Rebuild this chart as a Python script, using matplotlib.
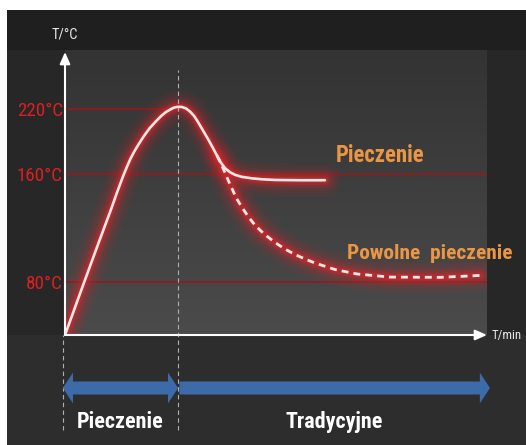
import numpy as np
import matplotlib
matplotlib.use('Agg')
import matplotlib.pyplot as plt
from matplotlib import transforms
from matplotlib import font_manager as fm
from matplotlib.patches import Polygon, Rectangle
from matplotlib.colors import LinearSegmentedColormap

# temperature levels marked on the y axis
levels = [80, 160, 220]
level_labels = ['80°C', '160°C', '220°C']

# fast roasting curve (time in arbitrary units, temperature in °C)
t_fast = [0, 4.6, 7.9, 10.7, 12.3, 13.8, 14.7, 15.5, 16.5, 17.4, 18.7, 20.1, 21.6,
          22.9, 23.9, 24.9, 25.8, 26.8, 27.7, 28.7, 29.6, 30.6, 31.6, 32.7, 34.0,
          35.0, 36.0, 36.9, 37.9, 39.1, 40.3, 41.9, 44.3, 46.7, 49.8, 55.7, 61.6]
T_fast = [0, 80, 108.3, 131.9, 146, 158.7, 166.9, 174, 181.4, 187.2, 195.1, 202.5, 208.9,
          214, 217.2, 219.5, 221.3, 222.1, 221.9, 220.5, 217.8, 213.6, 207.5, 200.2, 191.6,
          184.5, 177.1, 170.8, 165.5, 161.7, 159.4, 157.9, 156.8, 156.1, 155.6, 155.4, 155.4]

# slow roasting branch
t_slow = [36.0, 37.0, 37.9, 38.7, 39.5, 40.6, 41.9, 43.4, 45.0, 47.2, 49.8, 52.1, 54.5,
          56.9, 59.2, 64.0, 69.2, 77.0, 88.9, 98.3]
T_slow = [177.1, 169.2, 161.4, 155.2, 149.6, 142.1, 135.4, 128.4, 122, 115.3, 109, 104.2,
          100.1, 96.7, 93.8, 88.9, 85.6, 83.3, 83.1, 84.5]

# phases shown under the time axis
phase_edges = [-0.5, 26.8, 100.7]
phase_names = ['Pieczenie', 'Tradycyjne']

W, H = 526, 445
red = '#d8262a'


def pick_font(bold):
    # a narrow face is closest to the original lettering
    prefs = ['liberation sans narrow', 'roboto condensed', 'open sans condensed',
             'noto sans', 'dejavu sans', 'open sans', 'roboto']
    best, best_score = None, None
    for f in fm.fontManager.ttflist:
        if f.style != 'normal':
            continue
        try:
            w = int(f.weight)
        except (TypeError, ValueError):
            w = 700 if 'bold' in str(f.weight).lower() else 400
        if bold != (w >= 600) or w > 750 or w < 350:
            continue
        name = f.name.lower()
        st = str(f.stretch).lower()
        narrow = 'narrow' in name or 'condensed' in name or st in ('condensed', 'semi-condensed')
        if not narrow or 'extra' in name or 'extra' in st or 'ultra' in st:
            continue
        rank = next((i for i, p in enumerate(prefs) if name.startswith(p)), len(prefs))
        score = (rank, 0 if 'semi' not in st else 1)
        if best_score is None or score < best_score:
            best, best_score = f.fname, score
    if best:
        return fm.FontProperties(fname=best)
    return fm.FontProperties(family='Roboto', weight='bold' if bold else 'normal')


fp_reg = pick_font(False)
fp_bold = pick_font(True)


def frac(x0, y0, x1, y1):
    # pixel box -> figure fraction rect
    return [x0 / W, 1 - y1 / H, (x1 - x0) / W, (y1 - y0) / H]


fig = plt.figure(figsize=(W / 100, H / 100), dpi=100)
fig.patch.set_facecolor('white')

# background
bg = fig.add_axes([0, 0, 1, 1])
bg.add_patch(Rectangle((7, 10), W - 7, H - 10, color='#272727', lw=0, zorder=1))
bg.add_patch(Rectangle((7, 10), W - 7, 40, color='#1f1f1f', lw=0, zorder=1))
bg.add_patch(Rectangle((7, 335), W - 7, H - 335, color='#2d2d2d', lw=0, zorder=1))
grad = np.linspace(0, 1, 256)[:, None]
bg.imshow(grad, cmap=LinearSegmentedColormap.from_list('panel', ['#333333', '#4b4b4b']),
          extent=[65, 487, 335, 50], aspect='auto', interpolation='bilinear', zorder=2)
bg.set_xlim(0, W)
bg.set_ylim(H, 0)
bg.axis('off')

# main chart, schematic (non linear) temperature scale
T_knots = [-100, 0, 80, 160, 220, 300]
h_knots = [-67, 0, 53.5, 161, 226, 312.7]

ax = fig.add_axes(frac(65, 50, 487, 335))
ax.set_facecolor('none')
ax.set_yscale('function', functions=(lambda v: np.interp(v, T_knots, h_knots),
                                     lambda v: np.interp(v, h_knots, T_knots)))
ax.set_xlim(0, 100)
ax.set_ylim(0, 274.5)
for s in ax.spines.values():
    s.set_visible(False)
ax.set_xticks([])
ax.set_yticks(levels)
ax.yaxis.set_minor_locator(plt.NullLocator())
ax.tick_params(axis='y', length=0, pad=1.5)

peak_t = t_fast[int(np.argmax(T_fast))]
ends = [100, 100, peak_t]
ax.hlines(levels, 0, ends, colors='#8e1b20', lw=1.3, zorder=1)

# glow around the curves
for lw, a in [(24, 0.06), (19, 0.08), (14.5, 0.11), (10.5, 0.17), (7, 0.27), (4.5, 0.42)]:
    for tx, ty in [(t_fast, T_fast), (t_slow, T_slow)]:
        ax.plot(tx, ty, color=red, lw=lw, alpha=a, solid_capstyle='round',
                solid_joinstyle='round', zorder=2)

# dashed phase separators
bt = transforms.blended_transform_factory(ax.transData, fig.transFigure)
ax.plot([phase_edges[1]] * 2, [1 - 430 / H, 1 - 70 / H], transform=bt, clip_on=False,
        color='#b0b0b0', lw=0.8, dashes=(4, 3), zorder=3)
ax.plot([phase_edges[0]] * 2, [1 - 430 / H, 1 - 335 / H], transform=bt, clip_on=False,
        color='#b0b0b0', lw=0.8, dashes=(4, 3), zorder=3)

ax.plot(t_fast, T_fast, color='#f7e6e6', lw=1.9, solid_capstyle='round',
        solid_joinstyle='round', zorder=4)
ax.plot(t_slow, T_slow, color='#f7e6e6', lw=2.0, dashes=(2.5, 1.8), zorder=4)

# axes arrows
arrow = dict(arrowstyle='-|>,head_length=0.5,head_width=0.22', color='white', lw=1.5,
             mutation_scale=14, shrinkA=0, shrinkB=0)
ax.annotate('', xy=(0, 0.993), xytext=(0, 0), xycoords='axes fraction', arrowprops=arrow)
ax.annotate('', xy=(1.0, 0), xytext=(0, 0), xycoords='axes fraction', arrowprops=arrow)

fits = []  # (text, width px, cap height px, share of the width) seen in the original
fits.append((ax.text(0.0, 1.054, 'T/°C', transform=ax.transAxes, ha='center', va='center',
                     color='#e6e6e6', fontproperties=fp_reg, fontsize=10), 21, 12, 0.4))
fits.append((ax.text(1.012, 0, 'T/min', transform=ax.transAxes, ha='left', va='center',
                     color='#e6e6e6', fontproperties=fp_reg, fontsize=10), 30, 12, 1.0))

# curve labels
fits.append((ax.text(74.6, 177.5, 'Pieczenie', ha='center', va='center', color='#eb9645',
                     fontproperties=fp_bold, fontsize=14), 70, 19, 0.4))
fits.append((ax.text(86.5, 101, 'Powolne  pieczenie', ha='center', va='center',
                     color='#eb9645', fontproperties=fp_bold, fontsize=14), 140, 18, 0.5))

# phase arrows
ax2 = fig.add_axes(frac(65, 338, 487, 438))
ax2.set_xlim(0, 100)
ax2.set_ylim(-50, 50)
ax2.axis('off')
sh, hh, hl = 6.5, 15.5, 2.4
blue = '#3d6aa8'
x0, x1 = phase_edges[0], phase_edges[1]
ax2.add_patch(Polygon([(x0, 0), (x0 + hl, hh), (x0 + hl, sh), (x1 - hl, sh), (x1 - hl, hh),
                       (x1, 0), (x1 - hl, -hh), (x1 - hl, -sh), (x0 + hl, -sh), (x0 + hl, -hh)],
                      closed=True, color=blue, lw=0, clip_on=False))
x0, x1 = phase_edges[1] + 0.3, phase_edges[2]
ax2.add_patch(Polygon([(x0, sh), (x1 - hl, sh), (x1 - hl, hh), (x1, 0), (x1 - hl, -hh),
                       (x1 - hl, -sh), (x0, -sh)],
                      closed=True, color=blue, lw=0, clip_on=False))
for i, name in enumerate(phase_names):
    mid = (phase_edges[i] + phase_edges[i + 1]) / 2
    t = ax2.text(mid, -34, name, ha='center', va='center', color='white',
                 fontproperties=fp_bold, fontsize=14)
    fits.append((t, [70, 80][i], 18, 0.4))

# tick labels
ticks = ax.set_yticklabels(level_labels, color='#dc2020', fontproperties=fp_reg, fontsize=12)


def fit_size(size, width_now, width, cap, share):
    # between matching the width and matching the height of the original
    by_width = size * width / width_now
    by_height = cap / (0.71 * 100 / 72)
    return by_width ** share * by_height ** (1 - share)


fig.canvas.draw()
r = fig.canvas.get_renderer()
for t, w, c, k in fits:
    t.set_fontsize(fit_size(t.get_fontsize(), t.get_window_extent(r).width, w, c, k))
tick_size = fit_size(12, ticks[-1].get_window_extent(r).width, 39, 15, 0.4)
ax.set_yticklabels(level_labels, color='#dc2020', fontproperties=fp_reg, fontsize=tick_size)

fig.savefig('out.png', dpi=100, facecolor=fig.get_facecolor())
